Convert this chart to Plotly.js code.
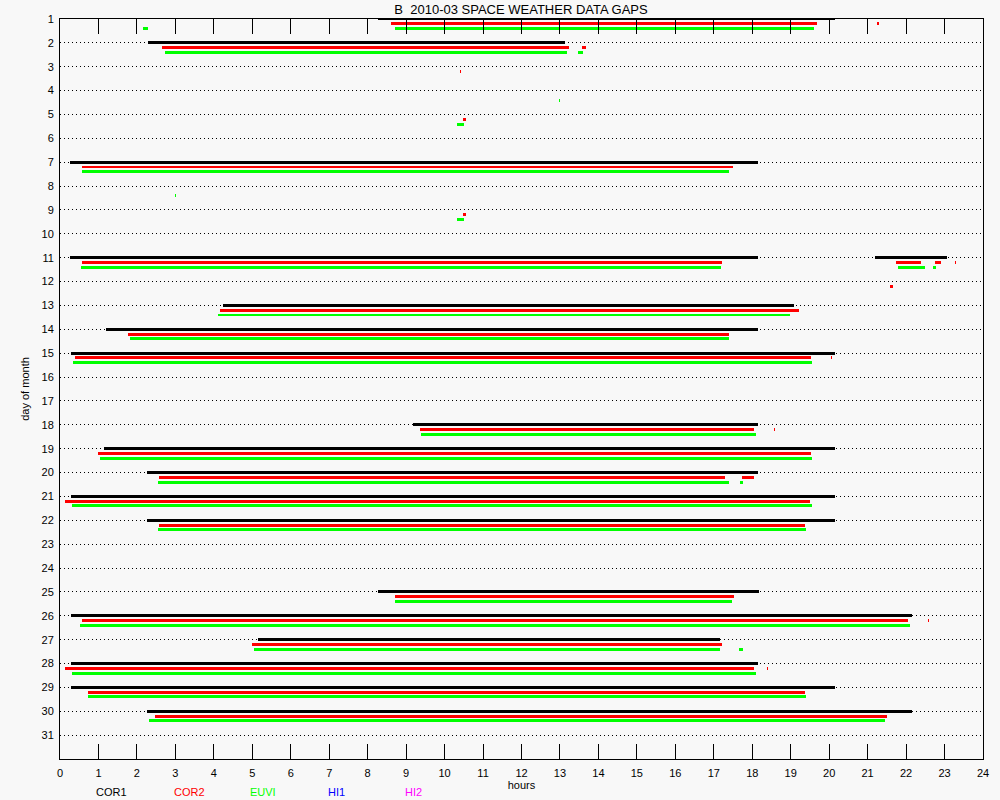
<!DOCTYPE html>
<html>
<head>
<meta charset="utf-8">
<script src="https://cdn.plot.ly/plotly-3.0.1.min.js"></script>
<style>
html,body{margin:0;padding:0;background:#f8f8f8;}
#chart{width:1000px;height:800px;}
</style>
</head>
<body>
<div id="chart"></div>
<script>
// ---- data (hours of day with data gaps, per day of month) ----
const seriesNames = ['COR1', 'COR2', 'EUVI', 'HI1', 'HI2'];
const seriesColors = ['#000000', '#ff0000', '#00ff00', '#0000ff', '#ff00ff'];
const dayTicks = [1,2,3,4,5,6,7,8,9,10,11,12,13,14,15,16,17,18,19,20,21,22,23,24,25,26,27,28,29,30,31];
const hourTicks = [0,1,2,3,4,5,6,7,8,9,10,11,12,13,14,15,16,17,18,19,20,21,22,23,24];

// COR1 (black)
const cor1Day   = [1, 2, 7, 11, 11, 13, 14, 15, 18, 19, 20, 21, 22, 25, 26, 27, 28, 29, 30];
const cor1Start = [8.27, 2.29, 0.26, 0.26, 21.18, 4.24, 1.20, 0.29, 9.18, 1.14, 2.26, 0.29, 2.26, 8.27, 0.29, 5.15, 0.29, 0.29, 2.26];
const cor1End   = [20.16, 13.14, 18.16, 18.16, 23.07, 19.09, 18.16, 20.16, 18.16, 20.16, 18.16, 20.16, 20.16, 18.18, 22.16, 17.17, 18.16, 20.16, 22.16];

// COR2 (red)
const cor2Day   = [1, 1, 2, 2, 3, 5, 7, 9, 11, 11, 11, 11, 12, 13, 14, 15, 15, 18, 18, 19, 20, 20, 21, 22, 25, 26, 26, 27, 28, 28, 29, 30];
const cor2Start = [8.61, 21.25, 2.65, 13.58, 10.40, 10.48, 0.57, 10.48, 0.57, 21.75, 22.74, 23.27, 21.57, 4.16, 1.77, 0.39, 20.05, 9.37, 18.56, 0.99, 2.58, 17.74, 0.13, 2.58, 8.71, 0.57, 22.57, 4.99, 0.13, 18.38, 0.73, 2.47];
const cor2End   = [19.69, 21.30, 13.24, 13.68, 10.43, 10.56, 17.51, 10.56, 17.22, 22.40, 22.92, 23.30, 21.67, 19.22, 17.40, 19.54, 20.08, 18.05, 18.59, 19.54, 17.30, 18.05, 19.51, 19.38, 17.53, 22.06, 22.60, 17.22, 18.05, 18.41, 19.38, 21.51];

// EUVI (green)
const euviDay   = [1, 1, 2, 2, 4, 5, 7, 8, 9, 11, 11, 11, 13, 14, 15, 18, 19, 20, 20, 21, 22, 25, 26, 27, 27, 28, 29, 30];
const euviStart = [2.17, 8.71, 2.73, 13.48, 12.97, 10.33, 0.57, 2.99, 10.33, 0.55, 21.80, 22.71, 4.11, 1.82, 0.34, 9.39, 1.04, 2.55, 17.69, 0.31, 2.55, 8.71, 0.52, 5.05, 17.66, 0.31, 0.73, 2.32];
const euviEnd   = [2.29, 19.61, 13.19, 13.61, 13.00, 10.51, 17.40, 3.02, 10.51, 17.20, 22.50, 22.79, 18.99, 17.40, 19.56, 18.11, 19.56, 17.40, 17.77, 19.56, 19.41, 17.48, 22.11, 17.17, 17.77, 18.11, 19.41, 21.46];

// ---- drawing ----
const rowOffset = [0, 0.2, 0.4];   // vertical offset of each instrument's row within a day
const barThickness = 0.125;

function gapTrace(name, days, starts, ends, offset, color) {
  return {
    type: 'bar',
    orientation: 'h',
    name: name,
    y: days.map(d => d + offset),
    base: starts,
    x: ends.map((e, i) => e - starts[i]),
    width: barThickness,
    marker: {color: color, line: {width: 0}},
    cliponaxis: false,
    hoverinfo: 'skip',
    showlegend: false
  };
}

const traces = [
  gapTrace(seriesNames[0], cor1Day, cor1Start, cor1End, rowOffset[0], seriesColors[0]),
  gapTrace(seriesNames[1], cor2Day, cor2Start, cor2End, rowOffset[1], seriesColors[1]),
  gapTrace(seriesNames[2], euviDay, euviStart, euviEnd, rowOffset[2], seriesColors[2])
];

const legendX = [0.0553, 0.1398, 0.2200, 0.3001, 0.3835];
const annotations = seriesNames.map((n, i) => ({
  text: n, xref: 'paper', yref: 'paper', x: legendX[i], y: -0.0446,
  xanchor: 'center', yanchor: 'middle', showarrow: false,
  font: {family: 'Liberation Sans, Arial, sans-serif', size: 11, color: seriesColors[i]}
}));

const font = {family: 'Liberation Sans, Arial, sans-serif', size: 11, color: '#000'};

const layout = {
  width: 1000, height: 800,
  paper_bgcolor: '#f8f8f8', plot_bgcolor: '#f8f8f8',
  margin: {l: 60, r: 17, t: 19, b: 41, pad: 0},
  font: font,
  barmode: 'overlay',
  bargap: 0,
  title: {text: 'B  2010-03 SPACE WEATHER DATA GAPS', x: 0.521, xanchor: 'center',
          y: 1 - 9/800, yref: 'container', yanchor: 'middle',
          font: {family: 'Liberation Sans, Arial, sans-serif', size: 13, color: '#000'}},
  xaxis: {
    range: [0, 24], tickvals: hourTicks, ticktext: hourTicks.map(String),
    ticks: 'inside', ticklen: 15, tickwidth: 1, tickcolor: '#000',
    showline: true, linecolor: '#000', linewidth: 1, mirror: 'ticks',
    showgrid: false, zeroline: false, fixedrange: true,
    ticklabelstandoff: 4,
    title: {text: 'hours', standoff: 2, font: font}
  },
  yaxis: {
    range: [32, 1], tickvals: dayTicks, ticktext: dayTicks.map(String),
    ticks: '', showline: true, linecolor: '#000', linewidth: 1, mirror: true,
    showgrid: true, gridcolor: '#000', gridwidth: 1, griddash: '1px,3px',
    zeroline: false, fixedrange: true, ticklabelstandoff: 3,
    title: {text: 'day of month', standoff: 9, font: font}
  },
  annotations: annotations
};

Plotly.newPlot('chart', traces, layout, {staticPlot: true, displayModeBar: false});
</script>
</body>
</html>
